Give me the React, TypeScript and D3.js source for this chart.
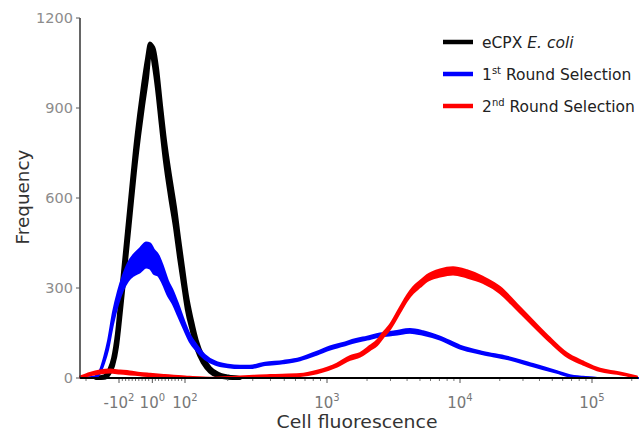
import React from "react";
import * as d3 from "d3";

// [fluorescence value, count, noise half-width]
const blackSeries: [number, number, number][] = [
  [-170, 0, 0], [-145, 3, 2], [-130, 20, 6], [-118, 53, 12], [-106, 127, 22], [-97, 220, 28],
  [-85, 353, 32], [-76, 453, 34], [-64, 587, 35], [-52, 720, 35], [-39, 843, 35], [-27, 943, 35],
  [-15, 1033, 32], [-6, 1100, 15], [0, 1093, 15], [6, 1067, 28], [15, 1000, 35], [27, 877, 35],
  [39, 760, 35], [55, 637, 35], [70, 533, 34], [82, 433, 32], [94, 340, 28], [103, 253, 24],
  [112, 173, 18], [121, 110, 15], [134, 60, 10], [150, 27, 6], [171, 10, 4], [201, 3, 2], [244, 0, 0],
];

const blueSeries: [number, number, number][] = [
  [-203, 0, 0], [-173, 3, 2], [-158, 20, 5], [-145, 60, 10], [-133, 110, 15], [-118, 200, 20],
  [-103, 267, 22], [-88, 317, 25], [-73, 353, 30], [-55, 377, 35], [-36, 393, 40], [-18, 410, 42],
  [-6, 407, 42], [6, 387, 40], [18, 377, 35], [33, 343, 30], [48, 300, 25], [64, 267, 22],
  [79, 227, 20], [97, 177, 15], [108, 133, 12], [121, 100, 10], [138, 70, 7], [163, 50, 5],
  [201, 40, 4], [244, 37, 4], [286, 37, 4], [366, 47, 4], [490, 53, 4], [646, 63, 4], [851, 83, 5],
  [1053, 100, 5], [1320, 112, 5], [1625, 124, 5], [2000, 133, 5], [2500, 143, 5], [3245, 150, 6],
  [4207, 157, 6], [5270, 150, 6], [7080, 133, 5], [10000, 103, 5], [14930, 83, 4], [22700, 67, 4],
  [35700, 43, 4], [54300, 20, 3], [68000, 7, 2], [85500, 3, 1], [115000, 0, 0], [224000, 0, 0],
];

const redSeries: [number, number, number][] = [
  [-218, 3, 2], [-188, 13, 4], [-158, 20, 5], [-127, 23, 5], [-97, 20, 5], [-67, 17, 5],
  [-36, 13, 4], [-6, 10, 4], [39, 7, 3], [100, 3, 2], [150, 0, 1], [244, 3, 2], [397, 7, 3],
  [646, 10, 3], [851, 20, 4], [1189, 43, 5], [1490, 67, 6], [1770, 77, 6], [2100, 100, 7],
  [2375, 117, 8], [2640, 143, 8], [2975, 170, 8], [3540, 227, 9], [4000, 267, 9], [4440, 293, 10],
  [5000, 313, 10], [5650, 333, 10], [7080, 350, 12], [8860, 357, 12], [11300, 347, 12],
  [14930, 327, 10], [20100, 293, 10], [27000, 237, 9], [35700, 183, 8], [48000, 127, 7],
  [64600, 77, 6], [85500, 50, 5], [115000, 27, 4], [155000, 17, 3], [219000, 3, 2],
];

const yTicks = [0, 300, 600, 900, 1200];
const xMajorTicks = [-100, 1, 100, 1000, 10000, 100000];
const xMajorBase = ["-10", "10", "10", "10", "10", "10"];
const xMajorExp = ["2", "0", "2", "3", "4", "5"];
const xMinorTicks = [
  -200, -90, -80, -70, -60, -50, -40, -30, -20, -10, 10, 20, 30, 40, 50, 60, 70, 80, 90,
  200, 300, 400, 500, 600, 700, 800, 900, 2000, 3000, 4000, 5000, 6000, 7000, 8000, 9000,
  20000, 30000, 40000, 50000, 60000, 70000, 80000, 90000, 200000,
];
const xDomain = [-218, 224000];
const yDomain = [0, 1200];

const FONT = "'DejaVu Sans', Verdana, sans-serif";

// display transform: linear near zero, logarithmic above 100
const xT = (v: number) => (v <= 100 ? v / 50 : Math.log10(v));
const xPos = d3.scaleLinear().domain([-2, 0, 2, 3, 4, 5]).range([119, 152, 185, 327, 460, 592]);
const x = (v: number) => xPos(xT(v));
const y = d3.scaleLinear().domain(yDomain).range([378, 18]);

function Series({ data, color, sw }: { data: [number, number, number][]; color: string; sw: number }) {
  const area = d3
    .area<[number, number, number]>()
    .x((d) => x(d[0]))
    .y0((d) => y(Math.max(0, d[1] - d[2])))
    .y1((d) => y(d[1] + d[2]))
    .curve(d3.curveMonotoneX);
  const line = d3
    .line<[number, number, number]>()
    .x((d) => x(d[0]))
    .y((d) => y(d[1]))
    .curve(d3.curveMonotoneX);
  return (
    <g>
      <path d={area(data) || ""} fill={color} stroke={color} strokeWidth={sw} strokeLinejoin="round" />
      <path d={line(data) || ""} fill="none" stroke={color} strokeWidth={sw} strokeLinejoin="round" />
    </g>
  );
}

export default function App() {
  const x0 = x(xDomain[0]);
  const x1 = x(xDomain[1]);
  const legend = [
    { color: "#000000", y: 42 },
    { color: "#0000ff", y: 74 },
    { color: "#ff0000", y: 106 },
  ];
  return (
    <svg width={639} height={433} style={{ position: "absolute", left: 0, top: 0, background: "#fff" }} fontFamily={FONT}>
      <rect width={639} height={433} fill="#fff" />
      {/* curves */}
      <Series data={blackSeries} color="#000000" sw={4} />
      <Series data={blueSeries} color="#0000ff" sw={2} />
      <Series data={redSeries} color="#ff0000" sw={2} />

      {/* y axis */}
      <line x1={80} x2={80} y1={y(1200)} y2={y(0)} stroke="#333" strokeWidth={1.5} />
      {yTicks.map((t) => (
        <g key={t}>
          <line x1={76} x2={80} y1={y(t)} y2={y(t)} stroke="#555" strokeWidth={1} />
          <text x={73} y={y(t) + 5} textAnchor="end" fontSize={14.5} fill="#8c8c8c">
            {t}
          </text>
        </g>
      ))}
      <text transform={`translate(29,197) rotate(-90)`} textAnchor="middle" fontSize={17} fill="#333" textLength={95} lengthAdjust="spacingAndGlyphs">
        Frequency
      </text>

      {/* x axis */}
      {xMinorTicks.map((t) => (
        <line key={t} x1={x(t)} x2={x(t)} y1={378} y2={381} stroke="#777" strokeWidth={1} />
      ))}
      {xMajorTicks.map((t) => (
        <line key={"M" + t} x1={x(t)} x2={x(t)} y1={378} y2={383} stroke="#555" strokeWidth={1} />
      ))}
      <line x1={x0} x2={x1} y1={378} y2={378} stroke="#000" strokeWidth={2} />
      {xMajorTicks.map((t, i) => (
        <text key={"L" + t} x={x(t)} y={408} textAnchor="middle" fontSize={15} fill="#777">
          <tspan>{xMajorBase[i]}</tspan>
          <tspan dy={-7} fontSize={10}>{xMajorExp[i]}</tspan>
        </text>
      ))}
      <text x={357} y={428} textAnchor="middle" fontSize={17} fill="#333" textLength={161} lengthAdjust="spacingAndGlyphs">
        Cell fluorescence
      </text>

      {/* legend */}
      {legend.map((l) => (
        <line key={l.y} x1={443} x2={473} y1={l.y} y2={l.y} stroke={l.color} strokeWidth={4.5} />
      ))}
      <text x={482} y={47.5} fontSize={15.5} fill="#222">
        eCPX <tspan fontStyle="italic">E. coli</tspan>
      </text>
      <text x={482} y={79.5} fontSize={15.5} fill="#222">
        1<tspan dy={-6} fontSize={10}>st</tspan>
        <tspan dy={6}> Round Selection</tspan>
      </text>
      <text x={482} y={111.5} fontSize={15.5} fill="#222">
        2<tspan dy={-6} fontSize={10}>nd</tspan>
        <tspan dy={6}> Round Selection</tspan>
      </text>
    </svg>
  );
}
